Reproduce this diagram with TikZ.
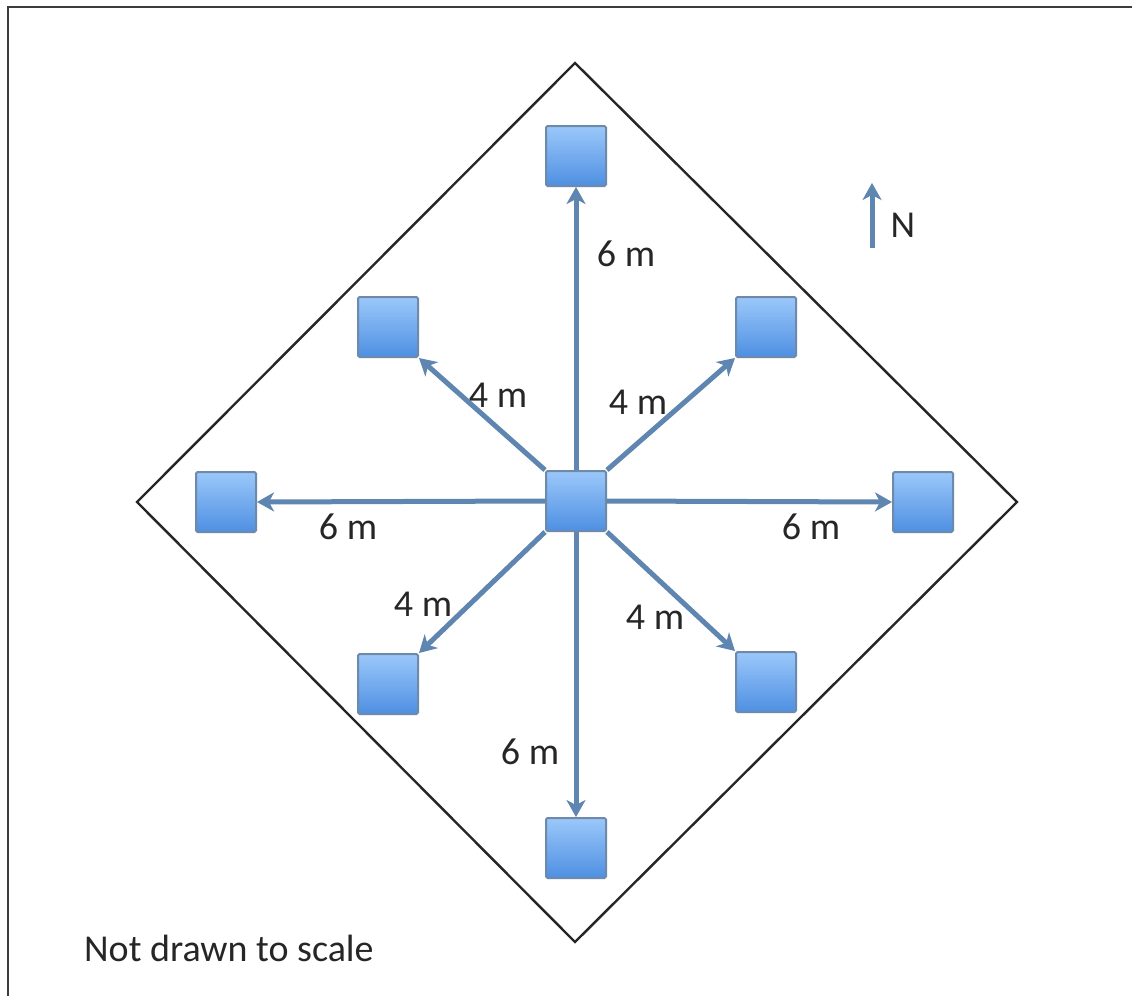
\documentclass[tikz,border=0pt]{standalone}
\usepackage{fontspec}
\setmainfont{Carlito}
\usetikzlibrary{arrows.meta}
\definecolor{arrowblue}{RGB}{95,134,176}
\definecolor{sqtop}{RGB}{155,200,250}
\definecolor{sqbot}{RGB}{78,143,226}
\definecolor{sqedge}{RGB}{110,138,170}
\definecolor{framegray}{RGB}{60,60,60}
\begin{document}
\begin{tikzpicture}[x=1pt,y=-1pt,
  plot/.style={draw=sqedge,line width=2pt,top color=sqtop,bottom color=sqbot,
    minimum size=60pt,inner sep=0pt,rounded corners=1.5pt},
  dist/.style={-{Stealth[length=17pt,width=19pt,inset=5pt]},draw=arrowblue,line width=5pt},
  lbl/.style={font=\fontsize{38}{42}\selectfont,inner sep=0pt,text=black!85}]
\useasboundingbox (0,0) rectangle (1132,996);
\fill[white] (0,0) rectangle (1132,996);
\draw[framegray,line width=2.5pt] (8,996) -- (8,7) -- (1132,7);
\draw[black!85,line width=2.4pt] (575,63) -- (1017,502) -- (575,942) -- (137,502) -- cycle;
\node[plot] (c) at (576,501) {};
\node[plot] (n) at (576,156) {};
\node[plot] (s) at (576,848) {};
\node[plot] (w) at (226,502) {};
\node[plot] (e) at (923,502) {};
\node[plot] (nw) at (388,327) {};
\node[plot] (ne) at (766,327) {};
\node[plot] (sw) at (388,684) {};
\node[plot] (se) at (766,682) {};
\draw[dist] (c.north) -- (n.south);
\draw[dist] (c.south) -- (s.north);
\draw[dist] (c.west) -- (w.east);
\draw[dist] (c.east) -- (e.west);
\draw[dist] (c.north west) -- (nw.south east);
\draw[dist] (c.north east) -- (ne.south west);
\draw[dist] (c.south west) -- (sw.north east);
\draw[dist] (c.south east) -- (se.north west);
\node[lbl] (l1) at (626,254) {6 m};
\node[lbl] (l2) at (498,395) {4 m};
\node[lbl] (l3) at (638,402) {4 m};
\node[lbl] (l4) at (348,527) {6 m};
\node[lbl] (l5) at (811,527) {6 m};
\node[lbl] (l6) at (423,604) {4 m};
\node[lbl] (l7) at (655,617) {4 m};
\node[lbl] (l8) at (530,752) {6 m};
\coordinate (nb) at (872,248);
\coordinate (nt) at (872,183);
\draw[dist] (nb) -- (nt);
\node[lbl] (nlab) at (903,225) {N};
\node[lbl,anchor=west] (note) at (84,948) {Not drawn to scale};
\end{tikzpicture}
\end{document}
